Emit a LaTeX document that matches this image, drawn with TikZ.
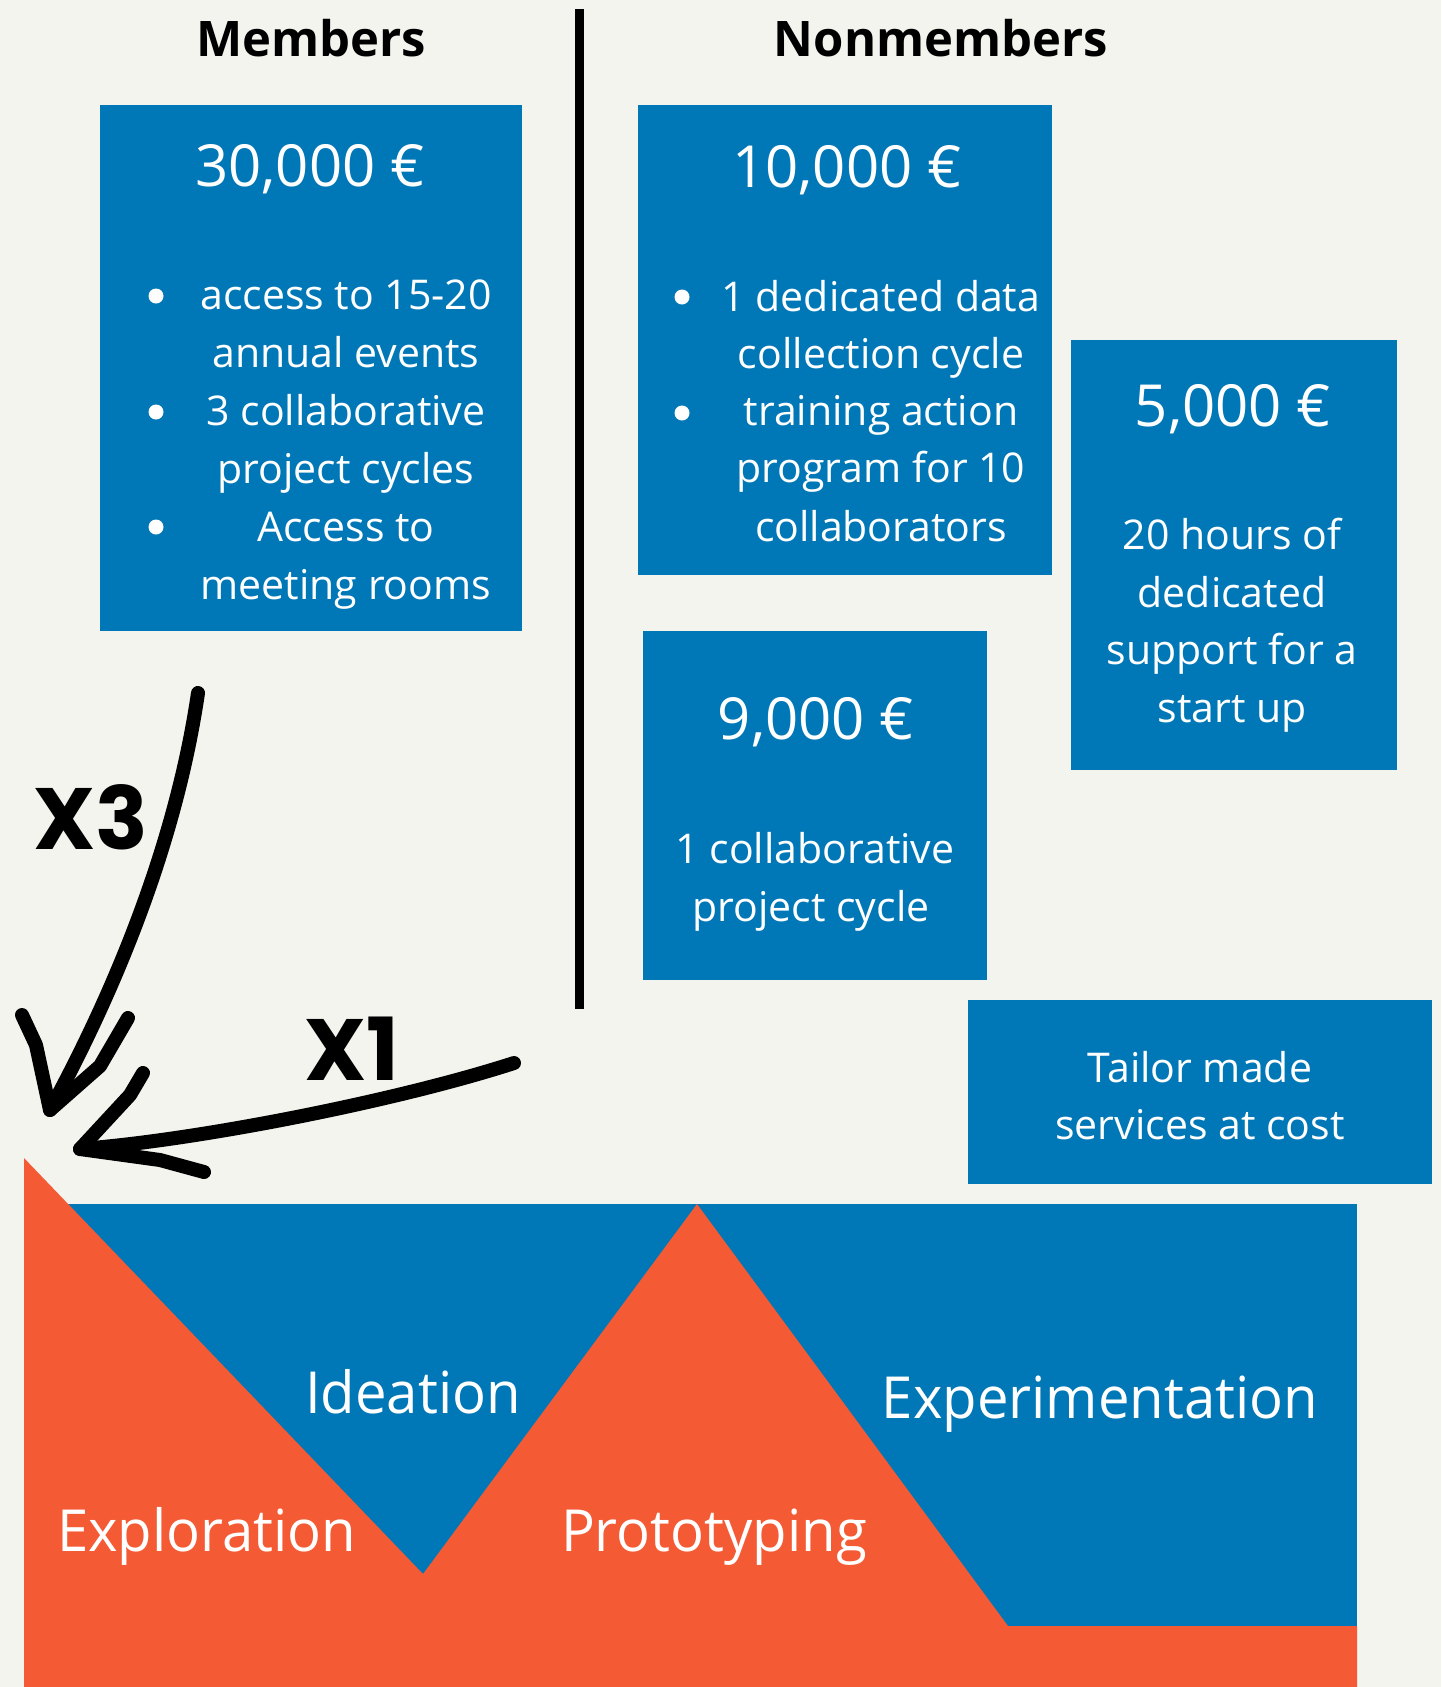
\documentclass[tikz,border=0pt]{standalone}
\usepackage{fontspec}
\newfontfamily\bodyfont{Open Sans}
\newfontfamily\labfont{Open Sans}[FakeStretch=0.97]
\newfontfamily\headfont{Open Sans}
\newfontfamily\markfont{Poppins}
\definecolor{cblue}{HTML}{0077B6}
\definecolor{corange}{HTML}{F45B34}
\definecolor{cbg}{HTML}{F4F4EF}
\begin{document}
\begin{tikzpicture}[x=1pt,y=-1pt,
  box/.style={fill=cblue, draw=none, inner sep=0pt, outer sep=0pt, anchor=north west},
  txt/.style={text=white, inner sep=0pt, anchor=base, font=\bodyfont\fontsize{41}{58}\selectfont},
  ttl/.style={text=white, inner sep=0pt, anchor=base, font=\bodyfont\fontsize{58}{70}\selectfont},
  lab/.style={text=white, inner sep=0pt, anchor=base, font=\labfont\fontsize{58}{70}\selectfont},
  dot/.style={circle, fill=white, inner sep=0pt, minimum size=15pt},
  hd/.style={inner sep=0pt, anchor=base, font=\headfont\bfseries\fontsize{49}{60}\selectfont},
  mk/.style={inner sep=0pt, anchor=base, font=\markfont\bfseries\fontsize{87}{90}\selectfont},
  hand/.style={line width=14pt, line cap=round, line join=round}
]
\fill[cbg] (0,0) rectangle (1441,1687);
\useasboundingbox (0,0) rectangle (1441,1687);

% headings and divider
\node[hd] (hmem) at (311,56) {Members};
\node[hd] (hnon) at (941,56) {Nonmembers};
\coordinate (divtop) at (579,9);
\coordinate (divbot) at (579,1009);
\draw[line width=9pt] (divtop) -- (divbot);

% boxes
\node[box, minimum width=422pt, minimum height=526pt] (b1) at (100,105) {};
\node[box, minimum width=414pt, minimum height=470pt] (b2) at (638,105) {};
\node[box, minimum width=326pt, minimum height=430pt] (b3) at (1071,340) {};
\node[box, minimum width=344pt, minimum height=349pt] (b4) at (643,631) {};
\node[box, minimum width=464pt, minimum height=184pt] (b5) at (968,1000) {};

% box 1
\node[ttl] (t1) at (310,186) {30,000 €};
\node[txt] (l11) at (346,309) {access to 15-20};
\node[txt] (l12) at (346,367) {annual events};
\node[txt] (l13) at (346,425) {3 collaborative};
\node[txt] (l14) at (346,483) {project cycles};
\node[txt] (l15) at (346,541) {Access to};
\node[txt] (l16) at (346,599) {meeting rooms};
\node[dot] (d11) at (156,296) {};
\node[dot] (d12) at (156,412) {};
\node[dot] (d13) at (156,527) {};

% box 2
\node[ttl] (t2) at (847,187) {10,000 €};
\node[txt] (l21) at (881,311) {1 dedicated data};
\node[txt] (l22) at (881,368) {collection cycle};
\node[txt] (l23) at (881,425) {training action};
\node[txt] (l24) at (881,482) {program for 10};
\node[txt] (l25) at (881,541) {collaborators};
\node[dot] (d21) at (682,297) {};
\node[dot] (d22) at (682,413) {};

% box 3
\node[ttl] (t3) at (1233,426) {5,000 €};
\node[txt] (l31) at (1232,549) {20 hours of};
\node[txt] (l32) at (1232,607) {dedicated};
\node[txt] (l33) at (1232,664) {support for a};
\node[txt] (l34) at (1232,722) {start up};

% box 4
\node[ttl] (t4) at (816,739) {9,000 €};
\node[txt] (l41) at (815,863) {1 collaborative};
\node[txt] (l42) at (811,921) {project cycle};

% box 5
\node[txt] (l51) at (1200,1082) {Tailor made};
\node[txt] (l52) at (1200,1139) {services at cost};

% bottom shapes
\fill[cblue] (24,1204) rectangle (1357,1660);
\fill[corange] (24,1158) -- (423,1574) -- (697,1204) -- (1008,1626) -- (1357,1626) -- (1357,1687) -- (24,1687) -- cycle;
\node[lab] (ide) at (413,1413) {Ideation};
\node[lab] (exp) at (1100,1418) {Experimentation};
\node[lab, anchor=base west] (explo) at (57,1551) {Exploration};
\node[lab] (pro) at (714,1551) {Prototyping};

% marks
\node[mk] (x3) at (91,849) {X3};
\node[mk] (x1) at (352,1080) {X1};

% hand-drawn arrows
\coordinate (a3s) at (198,693);
\coordinate (a3t) at (50,1110);
\coordinate (a3l) at (22,1015);
\coordinate (a3r) at (128,1018);
\draw[hand] (a3s) .. controls (175,850) and (110,1000) .. (a3t);
\draw[hand] (a3l) -- (36,1045) -- (a3t) -- (100,1066) -- (a3r);
\coordinate (a1s) at (514,1063);
\coordinate (a1t) at (80,1149);
\coordinate (a1u) at (143,1073);
\coordinate (a1d) at (204,1172);
\draw[hand] (a1s) .. controls (400,1100) and (200,1140) .. (a1t);
\draw[hand] (a1u) -- (130,1095) -- (a1t) -- (160,1160) -- (a1d);
\end{tikzpicture}
\end{document}
